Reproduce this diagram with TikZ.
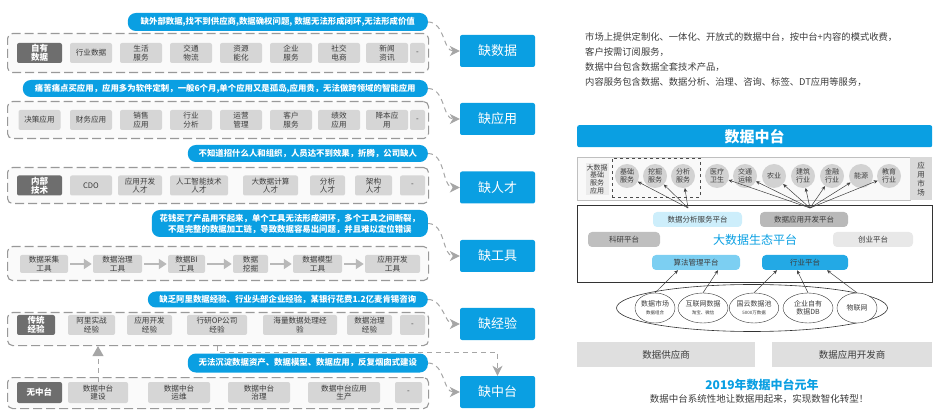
\documentclass[tikz,border=0pt]{standalone}
\usepackage{fontspec}
\setmainfont{Noto Sans CJK SC}
\usetikzlibrary{arrows.meta}
\usetikzlibrary{positioning,shapes.geometric}

\definecolor{sky}{HTML}{0A9FE2}
\definecolor{skymid}{HTML}{7CCFF2}
\definecolor{skylight}{HTML}{CDEEFB}
\definecolor{cellgray}{HTML}{D6D6D6}
\definecolor{headgray}{HTML}{6E6E6E}
\definecolor{ink}{HTML}{3C3C3C}

\begin{document}
\begin{tikzpicture}[x=1pt, y=-1pt, >=Stealth,
    frame/.style={draw=gray!80, line width=1.1pt, dash pattern=on 9pt off 4pt, rounded corners=5pt, fill=gray!4, anchor=north west, inner sep=0, minimum width=421},
    cell/.style={fill=cellgray, rounded corners=2pt, text=ink, align=center, inner sep=0, minimum height=20, font=\fontsize{7.6}{8.4}\selectfont},
    headcell/.style={cell, fill=headgray, text=white, font=\fontsize{8.5}{9}\selectfont\bfseries},
    bubble/.style={fill=sky, text=white, rounded corners=8pt, anchor=east, inner sep=0, align=center, font=\fontsize{8.4}{11}\selectfont\bfseries},
    lack/.style={fill=sky, text=white, rounded corners=2pt, minimum width=75, minimum height=32, font=\fontsize{13}{13}\selectfont},
    gap/.style={draw=gray!70, line width=1pt, dash pattern=on 5pt off 4pt, -{Stealth[length=10pt, width=10pt, inset=3pt]}},
    flow/.style={draw=gray!55, line width=2.8pt, -{Triangle[length=8pt, width=10pt]}, shorten <=2pt, shorten >=1pt},
    plat/.style={rounded corners=4pt, minimum height=15, inner sep=0, text=ink, font=\fontsize{7.5}{8}\selectfont},
    ball/.style={circle, fill=gray!35, minimum size=24, inner sep=0, text=ink, align=center, font=\fontsize{7}{7.6}\selectfont},
    src/.style={ellipse, draw=black!80, fill=white, inner sep=0, align=center, minimum height=30, text=ink, font=\fontsize{7}{8}\selectfont},
    pt/.style={draw=black!75, line width=0.5pt, -{Stealth[length=4pt, width=3.5pt]}}]

    \useasboundingbox (0,0) rectangle (939,419);

    % missing data
    \node[bubble, minimum width=300, minimum height=18] (b1) at (428,22) {缺外部数据,找不到供应商,数据确权问题, 数据无法形成闭环,无法形成价值};
    \node[frame, minimum height=39] (f1) at (7,33) {};
    \node[headcell, minimum width=45] (r1c0) at (39.5,53) {自有\\数据};
    \foreach \x/\t [count=\i] in {91/行业数据, 141/{生活\\服务}, 191/{交通\\物流}, 241/{资源\\能化}, 291/{企业\\服务}, 339/{社交\\电商}, 387/{新闻\\资讯}}
        \node[cell, minimum width=42] (r1c\i) at (\x,53) {\t};
    \node[cell, minimum width=15] (r1e) at (417.5,53) {-};
    \node[lack] (k1) at (497.5,51) {缺数据};

    % missing applications
    \node[bubble, minimum width=405, minimum height=17] (b2) at (428,88.5) {痛苦痛点买应用，应用多为软件定制，一般6个月,单个应用又是孤岛,应用贵，无法做跨领域的智能应用};
    \node[frame, minimum height=37] (f2) at (7,101) {};
    \foreach \x/\t [count=\i] in {39.5/决策应用, 91/财务应用, 141/{销售\\应用}, 191/{行业\\分析}, 241/{运营\\管理}, 291/{客户\\服务}, 339/{绩效\\应用}, 387/{降本应\\用}}
        \node[cell, minimum width=42] (r2c\i) at (\x,120) {\t};
    \node[cell, minimum width=15] (r2e) at (417.5,120) {-};
    \node[lack] (k2) at (497.5,119) {缺应用};

    % missing people
    \node[bubble, minimum width=240, minimum height=17] (b3) at (428,153.5) {不知道招什么人和组织，人员达不到效果，折腾，公司缺人};
    \node[frame, minimum height=36] (f3) at (7,167) {};
    \node[headcell, minimum width=45] (r3c0) at (39.5,185.5) {内部\\技术};
    \foreach \x/\w/\t [count=\i] in {91/42/CDO, 140/44/{应用开发\\人才}, 199/58/{人工智能技术\\人才}, 270.5/55/{大数据计算\\人才}, 327.5/35/{分析\\人才}, 373.5/37/{架构\\人才}}
        \node[cell, minimum width=\w] (r3c\i) at (\x,185.5) {\t};
    \node[cell, minimum width=25] (r3e) at (412.5,185.5) {-};
    \node[lack] (k3) at (497.5,187.5) {缺人才};

    % missing tools
    \node[bubble, minimum width=276, minimum height=27] (b4) at (428,223.5) {花钱买了产品用不起来，单个工具无法形成闭环，多个工具之间断裂，\\不是完整的数据加工链，导致数据容易出问题，并且难以定位错误};
    \node[frame, minimum height=34] (f4) at (7,246) {};
    \foreach \x/\w/\t [count=\i] in {44/48/{数据采集\\工具}, 117.5/49/{数据治理\\工具}, 186.5/37/{数据BI\\工具}, 250.5/35/{数据\\挖掘}, 317.5/49/{数据模型\\工具}, 392.5/55/{应用开发\\工具}}
        \node[cell, minimum width=\w, minimum height=18] (t\i) at (\x,264) {\t};
    \foreach \a/\b in {1/2, 2/3, 3/4, 4/5, 5/6}
        \draw[flow] (t\a) -- (t\b);
    \node[lack] (k4) at (497.5,256) {缺工具};

    % missing experience
    \node[bubble, minimum width=280, minimum height=16] (b5) at (428,299.5) {缺乏阿里数据经验、行业头部企业经验，某银行花费1.2亿麦肯锡咨询};
    \node[frame, minimum height=33] (f5) at (7,312) {};
    \node[headcell, minimum width=38] (r5c0) at (36,325) {传统\\经验};
    \foreach \x/\w/\t [count=\i] in {91.5/47/{阿里实战\\经验}, 149.5/45/{应用开发\\经验}, 217/60/{行研OP公司\\经验}, 300/74/{海量数据处理经\\验}, 369.5/45/{数据治理\\经验}}
        \node[cell, minimum width=\w] (r5c\i) at (\x,325) {\t};
    \node[cell, minimum width=25] (r5e) at (412.5,325) {-};
    \node[lack] (k5) at (497.5,324) {缺经验};

    % missing middle platform
    \node[bubble, minimum width=240, minimum height=19] (b6) at (428,363) {无法沉淀数据资产、数据模型、数据应用，反复烟囱式建设};
    \node[frame, minimum height=31] (f6) at (7,377) {};
    \node[headcell, minimum width=45, minimum height=21] (r6c0) at (39.5,392.5) {无中台};
    \foreach \x/\w/\t [count=\i] in {98/60/{数据中台\\建设}, 179/62/{数据中台\\运维}, 259/62/{数据中台\\治理}, 344/72/{数据中台应用\\生产}}
        \node[cell, minimum width=\w, minimum height=21] (r6c\i) at (\x,392.5) {\t};
    \node[cell, minimum width=27, minimum height=21] (r6e) at (408.5,392.5) {-};
    \node[lack] (k6) at (497.5,392) {缺中台};

    \foreach \i in {1,...,6}
        \draw[gap] (b\i.east) to[out=0, in=180] (k\i.west);
    \draw[gap] (f5.south -| r5c3) -- ++(0,6) -| (k6.north);
    \draw[gap, -{Triangle[length=10pt, width=11pt]}] (r6c1.north) -- (f5.south -| r6c1);

    % right side
    \node[anchor=north west, align=left, inner sep=0, text=ink, font=\fontsize{9.3}{15}\selectfont] (intro) at (585,32) {市场上提供定制化、一体化、开放式的数据中台，按中台+内容的模式收费，\\客户按需订阅服务，\\数据中台包含数据全套技术产品，\\内容服务包含数据、数据分析、治理、咨询、标签、DT应用等服务，};

    \node[fill=sky, rounded corners=2pt, anchor=north west, minimum width=355, minimum height=22, inner sep=0, text=white, font=\fontsize{15}{15}\selectfont\bfseries] (dmid) at (577,125) {数据中台};

    \node[draw=gray!50, fill=gray!5, anchor=north west, minimum width=333, minimum height=43, inner sep=0] (apps) at (577,157) {};
    \node[fill=gray!30, anchor=north west, minimum width=22, minimum height=43, inner sep=0, align=center, text=ink, font=\fontsize{7.5}{9}\selectfont] (mkt) at (910,157) {应\\用\\市\\场};
    \node[fill=gray!15, align=center, inner sep=1pt, text=ink, font=\fontsize{7}{7.6}\selectfont] (basic) at (597,179) {大数据\\基础\\服务\\应用};
    \node[draw=gray!60!black, dashed, anchor=north west, minimum width=88, minimum height=39, inner sep=0] (svc) at (612,158) {};
    \foreach \x/\t [count=\i] in {627/{基础\\服务}, 655/{挖掘\\服务}, 683/{分析\\服务}}
        \node[ball] (s\i) at (\x,176) {\t};
    \foreach \x/\t [count=\i] in {717/{医疗\\卫生}, 745/{交通\\运输}, 774/农业, 803/{建筑\\行业}, 832/{金融\\行业}, 861/能源, 889/{教育\\行业}}
        \node[ball] (m\i) at (\x,176) {\t};

    \node[draw=black!80, line width=0.8pt, anchor=north west, minimum width=355, minimum height=77, inner sep=0] (eco) at (577,205) {};
    \node[plat, fill=skylight, minimum width=89] (pAna) at (697.5,219.5) {数据分析服务平台};
    \node[plat, fill=gray!55, minimum width=88] (pDev) at (804,219.5) {数据应用开发平台};
    \node[plat, fill=gray!50, minimum width=72] (pSci) at (624,239.5) {科研平台};
    \node[text=sky, font=\fontsize{12}{12}\selectfont] (ecoTitle) at (755,240) {大数据生态平台};
    \node[plat, fill=gray!18, minimum width=80] (pBiz) at (873,239.5) {创业平台};
    \node[plat, fill=skymid, minimum width=88] (pAlg) at (696,262.5) {算法管理平台};
    \node[plat, fill=sky!90, minimum width=86] (pInd) at (805,262.5) {行业平台};

    \coordinate (hubA) at (688,208);
    \coordinate (hubD) at (810,208);
    \foreach \i in {1,2,3}
        \draw[pt] (hubA) -- (s\i);
    \foreach \i in {1,...,7}
        \draw[pt] (hubD) -- (m\i);

    \node[ellipse, draw=black!80, line width=0.6pt, minimum width=271, minimum height=47] (pool) at (752,308) {};
    \node[src, minimum width=40] (d1) at (655,308) {数据市场\\{\fontsize{4.5}{5}\selectfont 数据组合}};
    \node[src, minimum width=50] (d2) at (703,308) {互联网数据\\{\fontsize{4.5}{5}\selectfont 淘宝、微信}};
    \node[src, minimum width=45] (d3) at (754,308) {国云数据池\\{\fontsize{4.5}{5}\selectfont 5000万数据}};
    \node[src, minimum width=50] (d4) at (808,308) {企业自有\\数据DB};
    \node[src, minimum width=40] (d5) at (857,308) {物联网};
    \draw[pt] (d1.north) -- ([xshift=-18]pAlg.south);
    \draw[pt] (d2.north) -- ([xshift=22]pAlg.south);
    \draw[pt] (d3.north) -- ([xshift=-28]pInd.south);
    \draw[pt] (d4.north) -- ([xshift=-8]pInd.south);
    \draw[pt] (d5.north) -- ([xshift=22]pInd.south);

    \node[fill=gray!25, anchor=north west, minimum width=178, minimum height=25, inner sep=0, text=ink, font=\fontsize{9.5}{10}\selectfont] (supp) at (577,342) {数据供应商};
    \node[fill=gray!25, anchor=north west, minimum width=160, minimum height=25, inner sep=0, text=ink, font=\fontsize{9.5}{10}\selectfont] (devs) at (772,342) {数据应用开发商};
    \node[text=sky, font=\fontsize{12}{12}\selectfont\bfseries] (year) at (762,385) {2019年数据中台元年};
    \node[text=ink, font=\fontsize{9.5}{10}\selectfont] (slogan) at (759,399) {数据中台系统性地让数据用起来，实现数智化转型！};

\end{tikzpicture}
\end{document}
